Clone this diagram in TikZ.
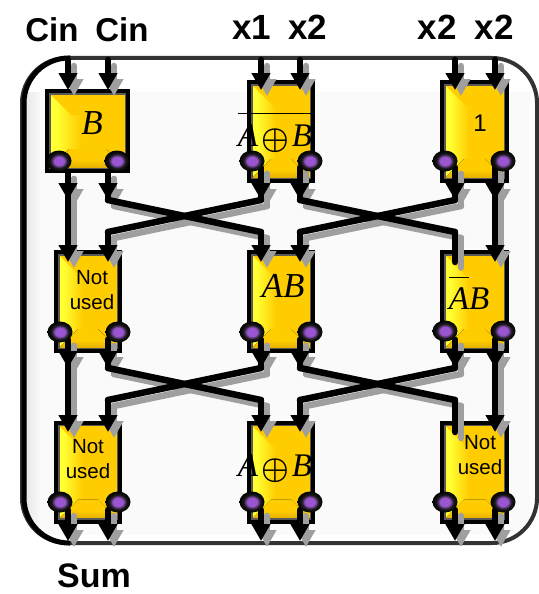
\documentclass[tikz,border=0pt]{standalone}
\usepackage{amsmath}
\usepackage{amssymb}
\usepackage{tikz}
\usepackage{tkz-euclide}
\usepackage{xcolor}
\usepackage{fontspec}
\setmainfont{Liberation Sans}
\newfontfamily\serifit{Liberation Serif}
\usetikzlibrary{arrows.meta,shapes.geometric}
\definecolor{bright}{HTML}{FFFF33}
\definecolor{gold}{HTML}{FFCC00}
\definecolor{deep}{HTML}{D8A400}
\definecolor{ballcore}{HTML}{9A55D0}
\definecolor{pale}{HTML}{FAFAFA}
\pgfdeclarehorizontalshading{bevelh}{100bp}{color(0bp)=(bright);color(31bp)=(bright);color(46bp)=(gold);color(100bp)=(gold)}
\pgfdeclareverticalshading{bevelv}{100bp}{color(0bp)=(deep);color(25bp)=(deep);color(50bp)=(gold);color(100bp)=(gold)}
\pgfdeclareradialshading{ballshade}{\pgfpoint{0bp}{0bp}}{color(0bp)=(ballcore);color(10bp)=(ballcore);color(17bp)=(black!90);color(25bp)=(black);color(50bp)=(black)}
\newcommand{\itl}[1]{{\serifit\itshape #1}}
\newcommand{\xorsign}{\hspace{3pt}\raisebox{-2pt}{\scalebox{1.25}{$\boldsymbol{\oplus}$}}\hspace{3pt}}
\newcommand{\allwires}[1]{%
  \tkzDrawSegments[wirehead,#1](a0,a1 b0,b1 c0,c1 d0,d1 e0,e1 f0,f1)
  \tkzDrawSegments[wirehead,#1](a2,a3 b2,b3 c2,c3 d2,d3 e2,e3 f2,f3)
  \tkzDrawSegments[wire,#1](a2,a3 b2,b3 c2,c3 d2,d3 e2,e3 f2,f3)
  \tkzDrawSegments[wire,#1](b3,c4 c3,b4 d3,e4 e3,d4 e4,e5)
  \tkzDrawSegments[wirehead,#1](a3,a5 b4,b5 c4,c5 d4,d5 f3,f5)
  \tkzDrawSegments[wirehead,#1](a6,a7 b6,b7 c6,c7 d6,d7 e6,e7 f6,f7)
  \tkzDrawSegments[wire,#1](a6,a7 b6,b7 c6,c7 d6,d7 e6,e7 f6,f7)
  \tkzDrawSegments[wire,#1](b7,c8 c7,b8 d7,e8 e7,d8 e8,e9)
  \tkzDrawSegments[wirehead,#1](a7,a9 b8,b9 c8,c9 d8,d9 f7,f9)
  \tkzDrawSegments[wirehead,#1](a10,a11 b10,b11 c10,c11 d10,d11 e10,e11 f10,f11)}
\tikzset{
  wire/.style={line width=6.5pt},
  wirehead/.style={line width=6.5pt,-{Triangle[width=18pt,length=17pt]}},
  wireshade/.style={draw=gray!75,dash pattern=on 1pt off .5pt,transform canvas={xshift=6pt,yshift=-6pt}},
  gate/.style={draw=black,line width=4pt,shading=bevelh,inner sep=0pt,
    path picture={
      \fill[gold]
        (path picture bounding box.north west) -- (path picture bounding box.north east)
        -- ([shift={(-24pt,-24pt)}]path picture bounding box.north east)
        -- ([shift={(24pt,-24pt)}]path picture bounding box.north west) -- cycle;
      \fill[shading=bevelv]
        (path picture bounding box.south west) -- (path picture bounding box.south east)
        -- ([shift={(-22pt,22pt)}]path picture bounding box.south east)
        -- ([shift={(22pt,22pt)}]path picture bounding box.south west) -- cycle;
      \draw[black!65,line width=7pt] (path picture bounding box.south west) rectangle (path picture bounding box.north east);
    }},
  ball/.style={ellipse,minimum width=25pt,minimum height=21pt,inner sep=0pt,shading=ballshade},
  title/.style={font=\fontsize{35}{36}\selectfont\bfseries,inner sep=0pt},
  small/.style={font=\fontsize{20.5}{25}\selectfont,align=center,inner sep=0pt},
  logic/.style={font=\fontsize{33}{36}\selectfont,inner sep=0pt,anchor=base},
}
\begin{document}
\begin{tikzpicture}[x=1pt,y=-1pt]
    \useasboundingbox (0,0) rectangle (538,594);
    \fill[white] (0,0) rectangle (538,594);
    \begin{scope}
        \clip[rounded corners=45pt] (22,58) rectangle (537,543);
        \fill[pale] (38,92) rectangle (530,535);
        \fill[left color=gray!22,right color=pale] (22,92) rectangle (40,535);
    \end{scope}
    \draw[black!80,line width=4pt,rounded corners=45pt] (22,58) rectangle (537,543);
    \draw[black,line width=5pt,rounded corners=45pt] (70,58) -- (24,58) -- (24,543) -- (70,543);

    \node[gate,minimum width=81pt,minimum height=80pt] (G11) at (87.5,131) {};
    \node[gate,minimum width=64pt,minimum height=99pt] (G12) at (281,131.5) {};
    \node[gate,minimum width=65pt,minimum height=99pt] (G13) at (474.5,131.5) {};
    \node[gate,minimum width=64pt,minimum height=99pt] (G21) at (88,301.5) {};
    \node[gate,minimum width=64pt,minimum height=99pt] (G22) at (281,301.5) {};
    \node[gate,minimum width=65pt,minimum height=99pt] (G23) at (474.5,301.5) {};
    \node[gate,minimum width=64pt,minimum height=99pt] (G31) at (88,472) {};
    \node[gate,minimum width=64pt,minimum height=99pt] (G32) at (281,472) {};
    \node[gate,minimum width=65pt,minimum height=99pt] (G33) at (474.5,472) {};

    \tkzDefPoints{68/60/a0,108/60/b0,261/60/c0,300/60/d0,455/60/e0,495/60/f0}
    \tkzDefPoints{68/90/a1,108/90/b1,261/90/c1,300/90/d1,455/90/e1,495/90/f1}
    \tkzDefPoints{68/173/a2,108/173/b2,261/168/c2,300/168/d2,455/168/e2,495/168/f2}
    \tkzDefPoints{68/200/a3,108/200/b3,261/200/c3,300/200/d3,455/200/e3,495/200/f3}
    \tkzDefPoints{108/232/b4,261/232/c4,300/232/d4,455/232/e4}
    \tkzDefPoints{68/262/a5,108/262/b5,261/262/c5,300/262/d5,455/262/e5,495/262/f5}
    \tkzDefPoints{68/340/a6,108/340/b6,261/340/c6,300/340/d6,455/340/e6,495/340/f6}
    \tkzDefPoints{68/368/a7,108/368/b7,261/368/c7,300/368/d7,455/368/e7,495/368/f7}
    \tkzDefPoints{108/400/b8,261/400/c8,300/400/d8,455/400/e8}
    \tkzDefPoints{68/432/a9,108/432/b9,261/432/c9,300/432/d9,455/432/e9,495/432/f9}
    \tkzDefPoints{68/510/a10,108/510/b10,261/510/c10,300/510/d10,455/510/e10,495/510/f10}
    \tkzDefPoints{68/541/a11,108/541/b11,261/541/c11,300/541/d11,455/541/e11,495/541/f11}

    \allwires{wireshade}
    \allwires{black}

    \node[ball] (D11) at (59,161) {};
    \node[ball] (E11) at (117,161) {};
    \node[ball] (D12) at (252,161) {};
    \node[ball] (E12) at (310,161) {};
    \node[ball] (D13) at (445,161) {};
    \node[ball] (E13) at (503,161) {};
    \node[ball] (D21) at (60,332) {};
    \node[ball] (E21) at (118,332) {};
    \node[ball] (D22) at (252,332) {};
    \node[ball] (E22) at (310,332) {};
    \node[ball] (D23) at (445,331) {};
    \node[ball] (E23) at (503,331) {};
    \node[ball] (D31) at (60,502) {};
    \node[ball] (E31) at (118,502) {};
    \node[ball] (D32) at (252,502) {};
    \node[ball] (E32) at (310,502) {};
    \node[ball] (D33) at (445,502) {};
    \node[ball] (E33) at (503,502) {};

    \node[logic,font=\fontsize{35}{38}\selectfont] (T11) at (92,134) {\itl{B}};
    \node[logic] (T12) at (275,146) {$\overline{\rule{0pt}{28pt}\mbox{\itl{A}\xorsign\itl{B}}}$};
    \node[small,font=\fontsize{24}{26}\selectfont] (T13) at (480,123) {1};
    \node[small] (T21) at (92,290) {Not\\used};
    \node[logic,font=\fontsize{35}{38}\selectfont] (T22) at (283,297) {\itl{AB}};
    \node[logic] (T23) at (469,309) {$\overline{\rule{0pt}{27pt}\mbox{\itl{A}}}$\itl{B}};
    \node[small] (T31) at (88,459) {Not\\used};
    \node[logic] (T32) at (275,476) {\itl{A}\xorsign\itl{B}};
    \node[small] (T33) at (480,455) {Not\\used};

    \node[title,font=\fontsize{33}{36}\selectfont\bfseries] (L1) at (52,30) {Cin};
    \node[title,font=\fontsize{33}{36}\selectfont\bfseries] (L2) at (122,30) {Cin};
    \node[title] (L3) at (252,27) {x1};
    \node[title] (L4) at (308,27) {x2};
    \node[title] (L5) at (437,27) {x2};
    \node[title] (L6) at (494,27) {x2};
    \node[title,font=\fontsize{34}{36}\selectfont\bfseries] (L7) at (94,576) {Sum};
\end{tikzpicture}
\end{document}
